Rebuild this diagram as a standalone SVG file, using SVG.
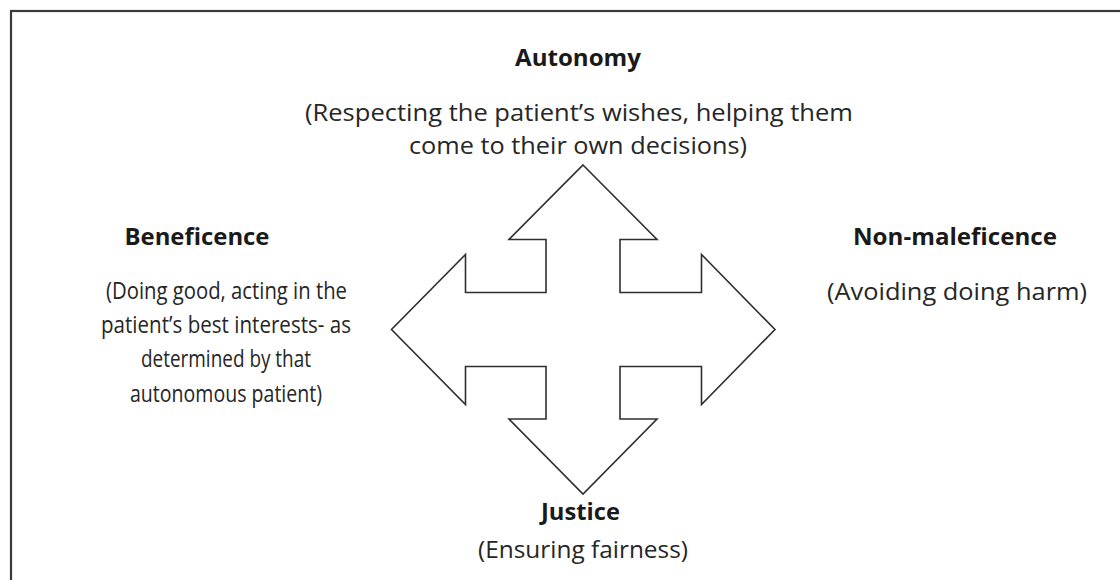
<svg xmlns="http://www.w3.org/2000/svg" width="1120" height="580" viewBox="0 0 1120 580">
  <style>
    .frame { fill: none; stroke: #3a3a3a; stroke-width: 2.2; }
    .arrow { fill: #ffffff; stroke: #2f2f2f; stroke-width: 1.6; stroke-linejoin: miter; }
    .title { font-family: "Open Sans", "Liberation Sans", sans-serif; font-weight: bold; font-size: 23.5px; fill: #1a1a1a; text-anchor: middle; }
    .desc { font-family: "Open Sans", "Liberation Sans", sans-serif; font-size: 24px; fill: #262626; text-anchor: middle; }
  </style>
  <rect width="1120" height="580" fill="#ffffff"/>
  <rect class="frame" x="11" y="11" width="1130" height="600"/>

  <g id="connectors">
    <polygon class="arrow" points="583,165 657,239.5 620,239.5 620,292.5 701.5,292.5 701.5,254.5 775,329.5 701.5,404.5 701.5,366.5 620,366.5 620,419 657,419 583,494 509,419 546,419 546,366.5 465.5,366.5 465.5,404.5 391.5,329.5 465.5,254.5 465.5,292.5 546,292.5 546,239.5 509,239.5"/>
  </g>

  <g id="autonomy">
    <text class="title" x="578" y="66" textLength="126" lengthAdjust="spacingAndGlyphs">Autonomy</text>
    <text class="desc" x="579" y="121" textLength="548" lengthAdjust="spacingAndGlyphs">(Respecting the patient’s wishes, helping them</text>
    <text class="desc" x="578" y="154" textLength="338" lengthAdjust="spacingAndGlyphs">come to their own decisions)</text>
  </g>

  <g id="beneficence">
    <text class="title" x="197" y="245" textLength="145" lengthAdjust="spacingAndGlyphs">Beneficence</text>
    <text class="desc" x="226.5" y="299" textLength="241" lengthAdjust="spacingAndGlyphs">(Doing good, acting in the</text>
    <text class="desc" x="226" y="333" textLength="250" lengthAdjust="spacingAndGlyphs">patient’s best interests- as</text>
    <text class="desc" x="226" y="367" textLength="170" lengthAdjust="spacingAndGlyphs">determined by that</text>
    <text class="desc" x="226" y="402" textLength="192" lengthAdjust="spacingAndGlyphs">autonomous patient)</text>
  </g>

  <g id="non-maleficence">
    <text class="title" x="955" y="245" textLength="204" lengthAdjust="spacingAndGlyphs">Non-maleficence</text>
    <text class="desc" x="957" y="300" textLength="260" lengthAdjust="spacingAndGlyphs">(Avoiding doing harm)</text>
  </g>

  <g id="justice">
    <text class="title" x="580.5" y="520" textLength="79" lengthAdjust="spacingAndGlyphs">Justice</text>
    <text class="desc" x="583" y="558" textLength="210" lengthAdjust="spacingAndGlyphs">(Ensuring fairness)</text>
  </g>
</svg>
